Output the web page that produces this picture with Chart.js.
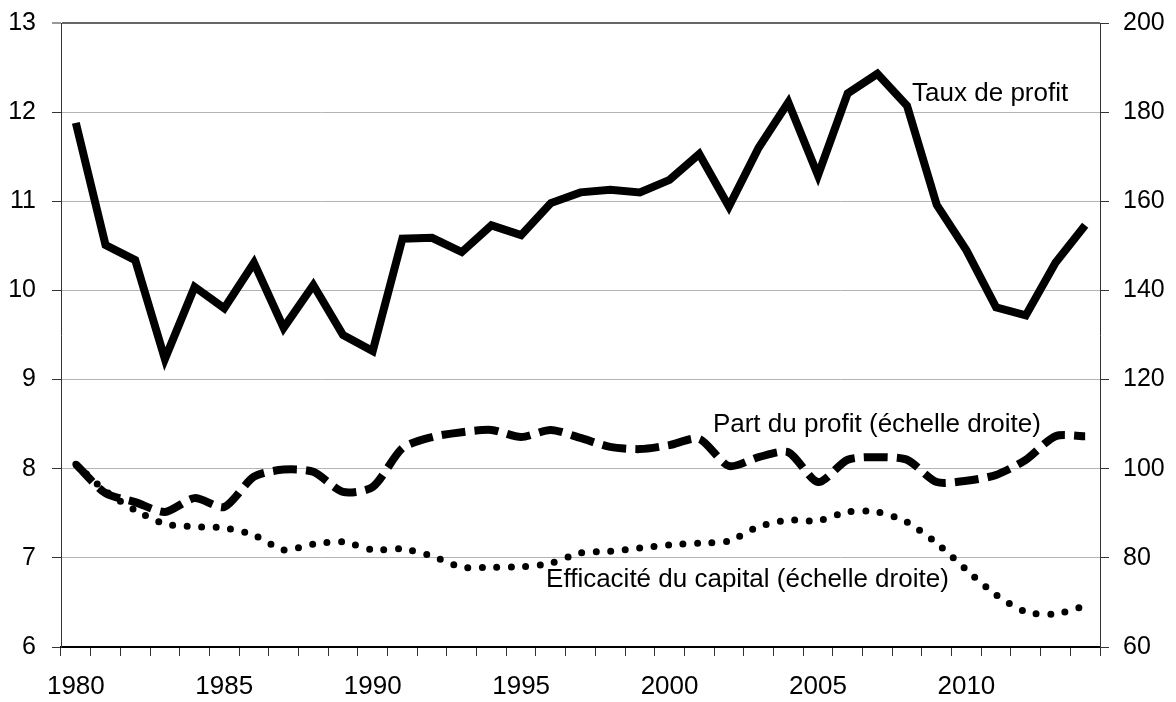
<!DOCTYPE html>
<html>
<head>
<meta charset="utf-8">
<script src="https://cdn.jsdelivr.net/npm/chart.js@4.4.1/dist/chart.umd.min.js"></script>
<style>
  html, body { margin: 0; padding: 0; background: #fff; }
  #wrap { width: 1176px; height: 702px; position: relative; }
</style>
</head>
<body>
<div id="wrap"><canvas id="chart"></canvas></div>
<script>
const years = [1980, 1981, 1982, 1983, 1984, 1985, 1986, 1987, 1988, 1989,
  1990, 1991, 1992, 1993, 1994, 1995, 1996, 1997, 1998, 1999,
  2000, 2001, 2002, 2003, 2004, 2005, 2006, 2007, 2008, 2009,
  2010, 2011, 2012, 2013, 2014];

// left scale
const tauxDeProfit = [11.88, 10.51, 10.34, 9.23, 10.04, 9.80, 10.31, 9.58, 10.06, 9.50,
  9.32, 10.58, 10.59, 10.43, 10.73, 10.62, 10.98, 11.10, 11.13, 11.10,
  11.24, 11.53, 10.94, 11.60, 12.11, 11.29, 12.21, 12.43, 12.07, 10.96,
  10.45, 9.81, 9.72, 10.31, 10.73];

// right scale
const partDuProfit = [101, 94.5, 92.5, 90.3, 93.4, 91.4, 98.2, 99.8, 99.3, 94.8,
  95.9, 104.6, 107.1, 108.2, 108.7, 107.1, 108.7, 106.9, 104.9, 104.4,
  105.3, 106.7, 100.6, 102.6, 103.7, 97.0, 102.0, 102.6, 102.0, 97.0,
  97.3, 98.6, 102.0, 107.3, 107.3];

const efficaciteCapital = [101, 95, 90.7, 87.6, 87.0, 86.7, 85.1, 81.8, 83.1, 83.6,
  81.8, 82.0, 80.4, 77.9, 77.9, 78.0, 78.8, 81.1, 81.5, 82.2,
  82.9, 83.3, 83.8, 87.0, 88.5, 88.3, 90.3, 90.3, 88.0, 83.3,
  77.3, 71.7, 67.9, 67.4, 69.2];

const leftMin = 6, leftMax = 13, leftStep = 1;
const rightMin = 60, rightMax = 200, rightStep = 20;

const seriesNames = ['Taux de profit', 'Part du profit (échelle droite)', 'Efficacité du capital (échelle droite)'];

const FONT = '"Liberation Sans", Arial, sans-serif';

// text labels placed in data coordinates (category index, axis value)
const notes = [
  { text: seriesNames[0], index: 28.17, value: 12.21, axis: 'y' },
  { text: seriesNames[1], index: 21.46, value: 109.8, axis: 'y1' },
  { text: seriesNames[2], index: 15.84, value: 75.0, axis: 'y1' }
];

const notesPlugin = {
  id: 'notes',
  afterDatasetsDraw(chart) {
    const ctx = chart.ctx;
    ctx.save();
    ctx.font = '26px ' + FONT;
    ctx.fillStyle = '#000';
    ctx.textAlign = 'left';
    ctx.textBaseline = 'middle';
    notes.forEach(n => {
      const x = chart.scales.x.getPixelForValue(n.index);
      const y = chart.scales[n.axis].getPixelForValue(n.value);
      ctx.fillText(n.text, x, y);
    });
    ctx.restore();
  }
};

// fixed axis box, without the extra label padding above/below
const fixVertical = width => s => {
  s.width = width;
  s.paddingTop = 0;
  s.paddingBottom = 0;
};

new Chart(document.getElementById('chart'), {
  type: 'line',
  data: {
    labels: years,
    datasets: [
      {
        label: seriesNames[1],
        data: partDuProfit,
        yAxisID: 'y1',
        borderColor: '#000',
        borderWidth: 8,
        borderDash: [24, 9],
        borderCapStyle: 'butt',
        tension: 0.25,
        pointRadius: 0
      },
      {
        label: seriesNames[2],
        data: efficaciteCapital,
        yAxisID: 'y1',
        borderColor: '#000',
        borderWidth: 7,
        borderDash: [0, 14.5],
        borderCapStyle: 'round',
        tension: 0.25,
        pointRadius: 0
      },
      {
        label: seriesNames[0],
        data: tauxDeProfit,
        yAxisID: 'y',
        borderColor: '#000',
        borderWidth: 8,
        tension: 0,
        pointRadius: 0
      }
    ]
  },
  options: {
    responsive: true,
    maintainAspectRatio: false,
    animation: false,
    layout: { padding: { top: 23, left: 0, right: 0, bottom: 0 } },
    plugins: {
      legend: { display: false },
      tooltip: { enabled: false }
    },
    scales: {
      x: {
        type: 'category',
        offset: true,
        grid: {
          offset: true,
          drawOnChartArea: false,
          tickLength: 9,
          tickColor: '#333',
          tickWidth: 1
        },
        border: { color: '#000', width: 2 },
        ticks: {
          autoSkip: false,
          maxRotation: 0,
          minRotation: 0,
          padding: 15,
          color: '#000',
          font: { size: 26, family: FONT },
          callback: function(value, index) {
            return years[index] % 5 === 0 ? String(years[index]) : '';
          }
        },
        afterFit: s => { s.height = 55; }
      },
      y: {
        position: 'left',
        min: leftMin,
        max: leftMax,
        ticks: {
          stepSize: leftStep,
          color: '#000',
          padding: 16,
          font: { size: 25, family: FONT }
        },
        grid: {
          color: c => c.tick && c.tick.value === leftMax ? '#666' : '#b4b4b4',
          lineWidth: c => c.tick && c.tick.value === leftMax ? 2 : 1,
          tickColor: '#333',
          tickWidth: 1,
          tickLength: 9
        },
        border: { color: '#333', width: 1 },
        afterFit: fixVertical(61)
      },
      y1: {
        position: 'right',
        min: rightMin,
        max: rightMax,
        ticks: {
          stepSize: rightStep,
          color: '#000',
          padding: 14,
          font: { size: 25, family: FONT }
        },
        grid: {
          drawOnChartArea: false,
          tickColor: '#333',
          tickWidth: 1,
          tickLength: 9
        },
        border: { color: '#333', width: 1 },
        afterFit: fixVertical(76)
      }
    }
  },
  plugins: [notesPlugin]
});
</script>
</body>
</html>
